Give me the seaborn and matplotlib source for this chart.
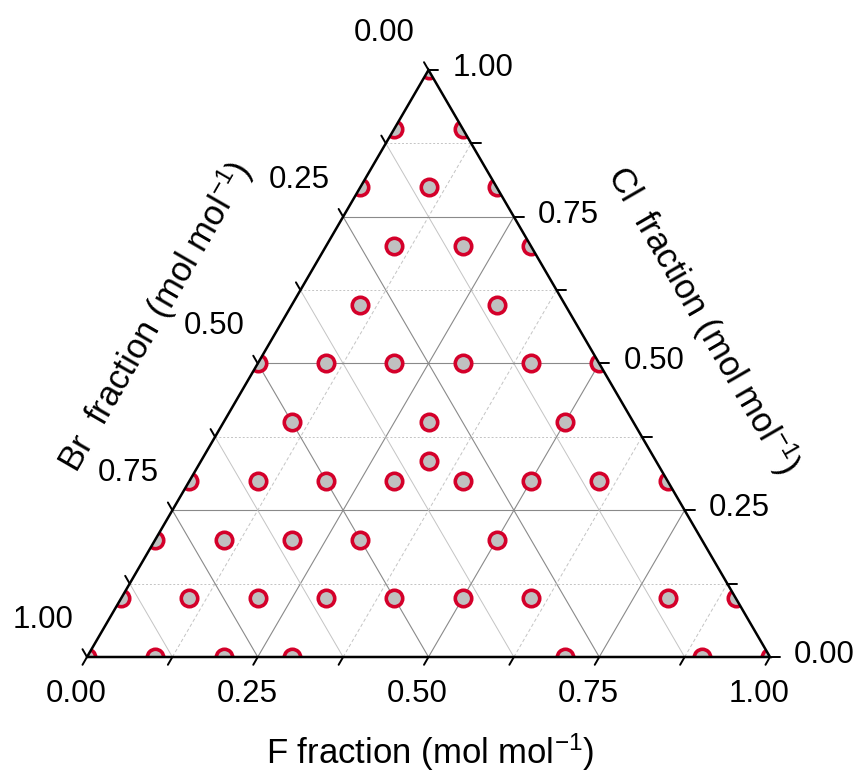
import numpy as np
import pandas as pd
import matplotlib
matplotlib.use("Agg")
import matplotlib.pyplot as plt
import seaborn as sns
from matplotlib.patches import Polygon

# Sample compositions (F and Cl fractions; Br = 1 - F - Cl)
f_frac = [0.0,
          0.0, 0.1,
          0.0, 0.1, 0.2,
          0.1, 0.2, 0.3,
          0.1, 0.3,
          0.0, 0.1, 0.2, 0.3, 0.4, 0.5,
          0.1, 0.3, 0.5,
          1 / 3,
          0.0, 0.1, 0.2, 0.3, 0.4, 0.5, 0.6, 0.7,
          0.0, 0.1, 0.2, 0.3, 0.5,
          0.0, 0.1, 0.2, 0.3, 0.4, 0.5, 0.6, 0.8, 0.9,
          0.0, 0.1, 0.2, 0.3, 0.7, 0.9, 1.0]
cl_frac = [1.0,
           0.9, 0.9,
           0.8, 0.8, 0.8,
           0.7, 0.7, 0.7,
           0.6, 0.6,
           0.5, 0.5, 0.5, 0.5, 0.5, 0.5,
           0.4, 0.4, 0.4,
           1 / 3,
           0.3, 0.3, 0.3, 0.3, 0.3, 0.3, 0.3, 0.3,
           0.2, 0.2, 0.2, 0.2, 0.2,
           0.1, 0.1, 0.1, 0.1, 0.1, 0.1, 0.1, 0.1, 0.1,
           0.0, 0.0, 0.0, 0.0, 0.0, 0.0, 0.0]

tick_values = [0.0, 0.25, 0.5, 0.75, 1.0]
tick_labels = ["0.00", "0.25", "0.50", "0.75", "1.00"]
minor_values = [i / 8 for i in range(9)]

sns.set_theme(style="white")
plt.rcParams["font.family"] = ["Liberation Sans", "DejaVu Sans"]
plt.rcParams["text.color"] = "black"
plt.rcParams["axes.unicode_minus"] = False
plt.rcParams["mathtext.fontset"] = "custom"
plt.rcParams["mathtext.rm"] = "Liberation Sans"
plt.rcParams["mathtext.it"] = "Liberation Sans:italic"
plt.rcParams["mathtext.bf"] = "Liberation Sans:bold"

H = np.sqrt(3) / 2
W_PX, H_PX = 683, 587          # triangle size on the canvas in pixels
FIG_W, FIG_H = 863, 776

fig = plt.figure(figsize=(FIG_W / 100, FIG_H / 100), dpi=100)
ax = fig.add_axes([87 / FIG_W, 1 - 657 / FIG_H, W_PX / FIG_W, H_PX / FIG_H])
ax.set_xlim(0, 1)
ax.set_ylim(0, H)
ax.axis("off")


def to_xy(f, cl):
    f = np.asarray(f, dtype=float)
    cl = np.asarray(cl, dtype=float)
    return f + cl / 2, cl * H


def px(dx, dy):
    """pixel offset -> data offset"""
    return dx / W_PX, dy / H_PX * H


# ---- grid lines ----
major_c = "#8a8a8a"
light_c = "#c4c4c4"
for k in range(1, 8):
    v = k / 8
    major = (k % 2 == 0)
    # constant Cl (horizontal)
    x, y = to_xy([0, 1 - v], [v, v])
    if major:
        ax.plot(x, y, color=major_c, lw=0.8, zorder=1)
    else:
        ax.plot(x, y, color=light_c, lw=0.7, dashes=(2, 2), zorder=1)
    # constant F
    x, y = to_xy([v, v], [0, 1 - v])
    if major:
        ax.plot(x, y, color=major_c, lw=0.8, zorder=1)
    else:
        ax.plot(x, y, color=light_c, lw=0.7, dashes=(3.5, 2.5), zorder=1)
    # constant Br
    x, y = to_xy([1 - v, 0], [0, 1 - v])
    if major:
        ax.plot(x, y, color=major_c, lw=0.8, zorder=1)
    else:
        ax.plot(x, y, color=light_c, lw=0.7, zorder=1)

# ---- triangle frame ----
ax.plot([0, 1, 0.5, 0], [0, 0, H, 0], color="black", lw=1.8,
        solid_joinstyle="miter", clip_on=False, zorder=4)

# ---- ticks ----
tl = 9
for v in minor_values:
    # bottom axis (F): ticks down-left
    x0, y0 = to_xy(v, 0)
    dx, dy = px(-0.5 * tl, -0.866 * tl)
    ax.plot([x0, x0 + dx], [y0, y0 + dy], color="black", lw=1.4, clip_on=False, zorder=4)
    # right axis (Cl): ticks to the right
    x0, y0 = to_xy(1 - v, v)
    dx, dy = px(tl * 1.1, 0)
    ax.plot([x0, x0 + dx], [y0, y0 + dy], color="black", lw=1.4, clip_on=False, zorder=4)
    # left axis (Br): ticks up-left
    x0, y0 = to_xy(0, 1 - v)
    dx, dy = px(-0.5 * tl, 0.866 * tl)
    ax.plot([x0, x0 + dx], [y0, y0 + dy], color="black", lw=1.4, clip_on=False, zorder=4)

fs_tick = 22.5
for v, lab in zip(tick_values, tick_labels):
    x0, y0 = to_xy(v, 0)
    ax.annotate(lab, (x0, y0), xytext=(-11, -37), textcoords="offset pixels",
                ha="center", va="center", fontsize=fs_tick, annotation_clip=False)
    x0, y0 = to_xy(1 - v, v)
    ax.annotate(lab, (x0, y0), xytext=(24, 2), textcoords="offset pixels",
                ha="left", va="center", fontsize=fs_tick, annotation_clip=False)
    x0, y0 = to_xy(0, 1 - v)
    ax.annotate(lab, (x0, y0), xytext=(-44, 37), textcoords="offset pixels",
                ha="center", va="center", fontsize=fs_tick, annotation_clip=False)

# ---- data points ----
xs, ys = to_xy(f_frac, cl_frac)
df = pd.DataFrame({"x": xs, "y": ys,
                   "Br": 1 - np.asarray(f_frac) - np.asarray(cl_frac)})
sns.scatterplot(data=df, x="x", y="y", s=140, color="#c0c0c0",
                edgecolor="#d4002a", linewidth=2.6, ax=ax, zorder=3, legend=False)
tri = Polygon([(0, 0), (1, 0), (0.5, H)], closed=True, transform=ax.transData,
              facecolor="none", edgecolor="none")
ax.collections[-1].set_clip_path(tri)

# ---- axis titles ----
fs_title = 25
sup = r"$^{\mathregular{-1}}$"
fig.text(430 / FIG_W, 1 - 752 / FIG_H, "F fraction (mol mol" + sup + ")",
         ha="center", va="center", fontsize=fs_title)
fig.text(155 / FIG_W, 1 - 316 / FIG_H, "Br  fraction (mol mol" + sup + ")",
         ha="center", va="center", rotation=60, rotation_mode="anchor", fontsize=fs_title)
fig.text(703 / FIG_W, 1 - 320 / FIG_H, "Cl  fraction (mol mol" + sup + ")",
         ha="center", va="center", rotation=-60, rotation_mode="anchor", fontsize=fs_title)

fig.savefig("out.png", dpi=100, facecolor="white")
